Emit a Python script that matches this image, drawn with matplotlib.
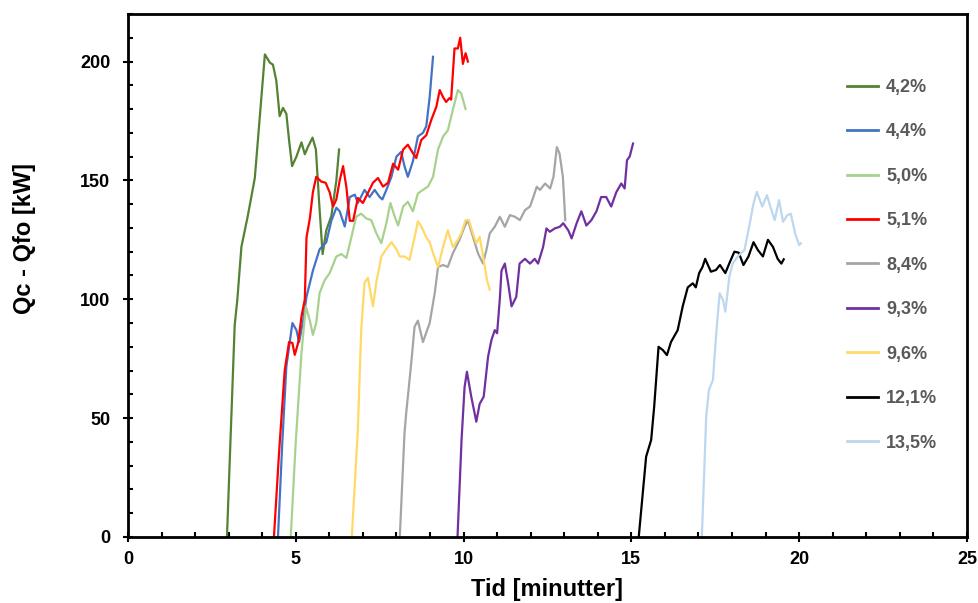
"""Qc - Qfo mot tid for ulike konsentrasjoner (out.png)."""

import matplotlib

matplotlib.use("Agg")
import matplotlib.pyplot as plt
from matplotlib.ticker import MultipleLocator

plt.rcParams["font.family"] = ["Liberation Sans", "DejaVu Sans"]

LABELS = ["4,2%", "4,4%", "5,0%", "5,1%", "8,4%", "9,3%", "9,6%", "12,1%", "13,5%"]
COLORS = ["#548235", "#4472C4", "#A9D18E", "#FF0000", "#A5A5A5",
          "#7030A0", "#FFD966", "#000000", "#BDD7EE"]

# 4,2%
t_42 = [2.95, 3.18, 3.26, 3.38, 3.57, 3.78, 3.93, 4.08, 4.23, 4.32, 4.42, 4.52, 4.62,
        4.72, 4.8, 4.89, 5.02, 5.17, 5.27, 5.36, 5.5, 5.6, 5.7, 5.8, 5.91, 6.06, 6.21, 6.29]
q_42 = [0, 89, 100, 122, 135, 151, 177, 203, 199.5, 198.7, 192, 177, 180.5,
        178, 167, 156, 160, 166, 161, 164, 168, 163, 140, 119, 129, 135, 150, 163]

# 4,4%
t_44 = [4.47, 4.6, 4.72, 4.9, 5.02, 5.1, 5.22, 5.32, 5.51, 5.71, 5.91, 6.06, 6.21, 6.31,
        6.46, 6.61, 6.76, 6.85, 7.05, 7.2, 7.35, 7.5, 7.58, 7.7, 7.85, 8.0, 8.14, 8.24,
        8.34, 8.49, 8.64, 8.79, 8.89, 8.99, 9.09]
q_44 = [0, 40, 71.7, 90, 87, 82, 91, 101, 112, 121, 124, 133, 138.5, 137,
        130.6, 143, 144, 140.5, 146, 143, 146, 143, 142, 146, 151.5, 160, 162, 156,
        151.5, 158, 168.5, 170, 172.8, 185, 202]

# 5,0%
t_50 = [4.85, 5.0, 5.17, 5.3, 5.42, 5.51, 5.61, 5.71, 5.86, 6.01, 6.21, 6.36, 6.51,
        6.66, 6.8, 6.95, 7.1, 7.25, 7.4, 7.55, 7.7, 7.82, 7.95, 8.05, 8.2, 8.34, 8.49,
        8.64, 8.79, 8.94, 9.09, 9.24, 9.39, 9.53, 9.68, 9.83, 9.93, 10.06]
q_50 = [0, 40, 77.4, 97, 91, 85, 90, 102.6, 108, 111, 118, 119, 117.4,
        126.3, 134.7, 136, 134, 133.3, 127.8, 123.6, 132, 140.5, 134.7, 131, 139, 141, 137,
        144.5, 146, 147.4, 151.5, 163, 168.5, 171, 179.6, 188, 186.6, 180]

# 5,1%
t_51 = [4.35, 4.5, 4.67, 4.8, 4.9, 4.97, 5.07, 5.17, 5.27, 5.32, 5.42, 5.51, 5.61, 5.76,
        5.89, 6.01, 6.11, 6.21, 6.31, 6.41, 6.51, 6.61, 6.71, 6.85, 7.0, 7.15, 7.3, 7.45,
        7.6, 7.75, 7.9, 8.05, 8.2, 8.34, 8.49, 8.59, 8.74, 8.89, 9.04, 9.19, 9.29, 9.39,
        9.48, 9.58, 9.63, 9.73, 9.83, 9.9, 9.98, 10.06, 10.13]
q_51 = [0, 35, 70, 82, 81.6, 76.6, 81.6, 92.7, 100, 126, 134, 145, 151.5, 149.5,
        149, 145, 139, 142, 150, 156, 147, 133, 133, 142.6, 140.5, 144.7, 149, 151,
        147.4, 149, 157, 154.5, 163, 165, 161.5, 159.4, 167, 169, 175.5, 181, 188, 185,
        183, 184.6, 184, 205.5, 205.5, 210, 199, 203.5, 200]

# 8,4%
t_84 = [8.1, 8.24, 8.29, 8.44, 8.54, 8.64, 8.79, 8.99, 9.14, 9.24, 9.39, 9.53, 9.68,
        9.88, 10.03, 10.13, 10.28, 10.43, 10.58, 10.68, 10.78, 10.93, 11.08, 11.23,
        11.38, 11.53, 11.68, 11.83, 11.98, 12.08, 12.18, 12.28, 12.43, 12.58, 12.68,
        12.78, 12.86, 12.96, 13.03]
q_84 = [0, 43.6, 52, 73, 88.4, 91, 82, 90, 102.5, 113.6, 114.4, 113.6, 119.3,
        125, 130.5, 133.3, 126.3, 119.3, 115, 120.7, 127.7, 130.5, 134.7, 130.5,
        135.4, 134.7, 133.3, 137.5, 139, 143, 147.3, 146, 148.7, 146.6, 151.5,
        164, 161.3, 151.5, 133.3]

# 9,3%
t_93 = [9.82, 9.94, 10.03, 10.1, 10.23, 10.38, 10.48, 10.6, 10.73, 10.83, 10.93, 11.0,
        11.08, 11.13, 11.23, 11.33, 11.43, 11.57, 11.67, 11.83, 11.98, 12.12, 12.22,
        12.37, 12.47, 12.57, 12.72, 12.87, 12.97, 13.12, 13.22, 13.37, 13.51, 13.66,
        13.81, 13.96, 14.1, 14.25, 14.4, 14.55, 14.7, 14.8, 14.87, 14.95, 15.05]
q_93 = [0, 40.8, 63, 69.5, 59, 48.5, 56, 59, 75.8, 82.8, 87, 85.7,
        100, 112, 115, 106.6, 97, 101, 115, 117, 115, 117, 115,
        122, 129.8, 128.4, 129.8, 130.5, 132, 129, 125.6, 132, 137, 131,
        133.3, 137, 143, 143, 139, 145, 148.7, 146.6, 158.5, 160, 165.5]

# 9,6%
t_96 = [6.67, 6.85, 6.95, 7.05, 7.15, 7.3, 7.4, 7.55, 7.69, 7.85, 8.0, 8.1, 8.24, 8.39,
        8.54, 8.64, 8.74, 8.89, 8.99, 9.1, 9.24, 9.39, 9.53, 9.68, 9.83, 9.93, 10.06,
        10.16, 10.28, 10.38, 10.48, 10.6, 10.7, 10.78]
q_96 = [0, 45, 87, 107, 109, 97, 107, 118, 121, 124, 121, 118, 118, 116.6,
        126, 132.8, 130.7, 126, 124, 119, 113.6, 122, 129, 122, 125, 127.7, 133.3,
        133.3, 127.7, 123.5, 126.3, 116.6, 108, 104]

# 12,1%
t_121 = [15.22, 15.44, 15.59, 15.68, 15.81, 15.94, 16.06, 16.18, 16.38, 16.53, 16.68,
         16.83, 16.92, 17.02, 17.12, 17.2, 17.37, 17.52, 17.64, 17.8, 17.94, 18.07,
         18.2, 18.34, 18.49, 18.64, 18.77, 18.92, 19.07, 19.22, 19.36, 19.47, 19.54]
q_121 = [0, 33.8, 40.8, 54.8, 80, 78.6, 76.5, 82, 87, 97, 105,
         106.7, 105, 111, 113.6, 117, 111.6, 112.3, 114.4, 111, 115.8, 120,
         119.6, 114.4, 118, 124, 120.7, 118, 125, 122, 117, 115, 116.8]

# 13,5%
t_135 = [17.1, 17.23, 17.31, 17.43, 17.53, 17.63, 17.73, 17.8, 17.92, 18.02, 18.17,
         18.37, 18.51, 18.64, 18.74, 18.9, 19.04, 19.14, 19.27, 19.4, 19.52, 19.65,
         19.75, 19.88, 20.0, 20.05]
q_135 = [0, 50.6, 61.8, 66, 85.7, 102.5, 99.7, 94.8, 109.5, 115, 118,
         120.7, 130.5, 140.3, 145.2, 139, 143.8, 139, 133.3, 141.7, 132.6, 135.4,
         136, 127.7, 122.8, 123.5]

SERIES = [(t_42, q_42), (t_44, q_44), (t_50, q_50), (t_51, q_51), (t_84, q_84),
          (t_93, q_93), (t_96, q_96), (t_121, q_121), (t_135, q_135)]


def build_chart():
    fig = plt.figure(figsize=(9.79, 6.03), dpi=100)
    ax = fig.add_axes([0.1307, 0.1095, 0.8570, 0.8673])

    for (t, q), label, color in zip(SERIES, LABELS, COLORS):
        ax.plot(t, q, color=color, linewidth=1.6, label=label,
                solid_joinstyle="round")

    ax.set_xlim(0, 25)
    ax.set_ylim(0, 220)
    ax.xaxis.set_major_locator(MultipleLocator(5))
    ax.xaxis.set_minor_locator(MultipleLocator(1))
    ax.yaxis.set_major_locator(MultipleLocator(50))
    ax.yaxis.set_minor_locator(MultipleLocator(10))
    ax.set_yticks([0, 50, 100, 150, 200])

    for spine in ax.spines.values():
        spine.set_linewidth(2)
    ax.tick_params(which="major", direction="inout", length=7.5, width=1.5,
                   labelsize=13)
    ax.tick_params(axis="x", which="major", pad=6)
    ax.tick_params(axis="y", which="major", pad=9)
    ax.tick_params(which="minor", direction="in", length=3.6, width=1.5)
    for lab in ax.get_xticklabels() + ax.get_yticklabels():
        lab.set_fontweight("bold")

    ax.set_xlabel("Tid [minutter]", fontsize=17, fontweight="bold")
    ax.xaxis.set_label_coords(0.5, -0.078)
    ax.set_ylabel("Qc - Qfo [kW]", fontsize=17, fontweight="bold")
    ax.yaxis.set_label_coords(-0.11, 0.57)

    leg = ax.legend(loc="upper left", bbox_to_anchor=(847 / 979, 1 - 79 / 603),
                    bbox_transform=fig.transFigure, frameon=False, borderpad=0,
                    borderaxespad=0, handlelength=1.72, handletextpad=0.44,
                    labelspacing=1.52, prop={"size": 13, "weight": "bold"})
    for text in leg.get_texts():
        text.set_color("#595959")
    for line in leg.get_lines():
        line.set_linewidth(2)

    fig.savefig("out.png", dpi=100)


if __name__ == "__main__":
    build_chart()
